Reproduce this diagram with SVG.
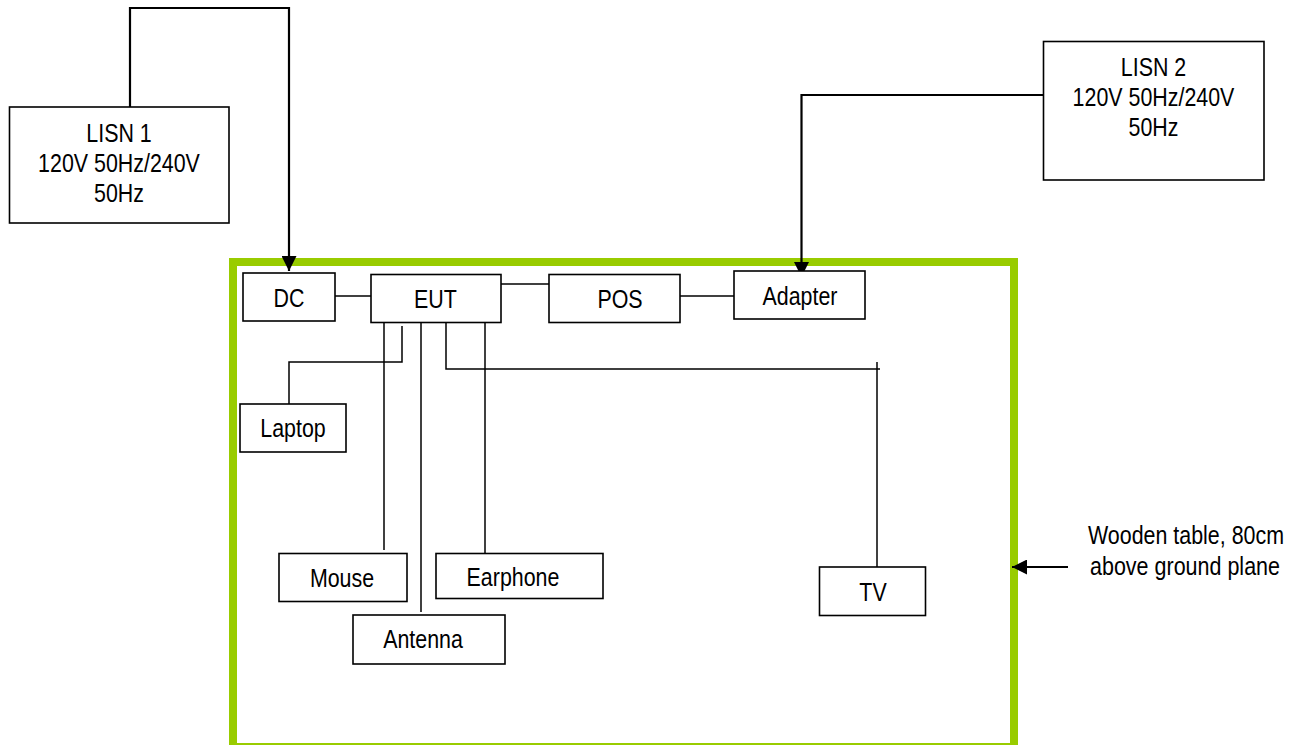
<svg xmlns="http://www.w3.org/2000/svg" width="1303" height="745" viewBox="0 0 1303 745">
<style>
.box{fill:#fff;stroke:#000;stroke-width:1.6}
.wire{fill:none;stroke:#000;stroke-width:1.5}
.pwr{fill:none;stroke:#000;stroke-width:2.2}
.t{font-family:"Liberation Sans",Arial,sans-serif;font-size:25px;fill:#000;text-anchor:middle}
</style>
<defs>
<marker id="arr" markerUnits="userSpaceOnUse" markerWidth="16" markerHeight="15" refX="15" refY="7.5" orient="auto">
<path d="M0,0 L15,7.5 L0,15 z" fill="#000"/>
</marker>
</defs>
<rect width="1303" height="745" fill="#fff"/>
<g id="table">
<rect x="233" y="262" width="781" height="485" fill="none" stroke="#99cc00" stroke-width="8"/>
</g>
<g id="connectors">
<path class="pwr" d="M130,107 V8 H289 V271" marker-end="url(#arr)"/>
<path class="pwr" d="M1043,95 H801.5 V277" marker-end="url(#arr)"/>
<path class="wire" d="M335,296 H371"/>
<path class="wire" d="M501,284 H549"/>
<path class="wire" d="M680,296 H734"/>
<path class="wire" d="M402,326 V362 H289 V404"/>
<path class="wire" d="M384,322 V550"/>
<path class="wire" d="M421,322 V612"/>
<path class="wire" d="M485,322 V553"/>
<path class="wire" d="M446,322 V369 H880"/>
<path class="wire" d="M877,362 V567"/>
<path class="pwr" d="M1068,567 H1012" marker-end="url(#arr)"/>
</g>
<g id="lisn1">
<rect class="box" x="9.5" y="107" width="219.5" height="116"/>
<text class="t" x="119" y="141.5" textLength="65.4" lengthAdjust="spacingAndGlyphs">LISN 1</text>
<text class="t" x="119" y="171.5" textLength="161.8" lengthAdjust="spacingAndGlyphs">120V 50Hz/240V</text>
<text class="t" x="119" y="201.5" textLength="49.9" lengthAdjust="spacingAndGlyphs">50Hz</text>
</g>
<g id="lisn2">
<rect class="box" x="1043.5" y="41.5" width="220.5" height="138.5"/>
<text class="t" x="1153.5" y="76" textLength="65.4" lengthAdjust="spacingAndGlyphs">LISN 2</text>
<text class="t" x="1153.5" y="106" textLength="161.8" lengthAdjust="spacingAndGlyphs">120V 50Hz/240V</text>
<text class="t" x="1153.5" y="136" textLength="49.9" lengthAdjust="spacingAndGlyphs">50Hz</text>
</g>
<g id="dc">
<rect class="box" x="243" y="273" width="92" height="48"/>
<text class="t" x="289" y="306.5" textLength="30.9" lengthAdjust="spacingAndGlyphs">DC</text>
</g>
<g id="eut">
<rect class="box" x="371" y="274.5" width="130" height="48"/>
<text class="t" x="435.5" y="308" textLength="42.8" lengthAdjust="spacingAndGlyphs">EUT</text>
</g>
<g id="pos">
<rect class="box" x="549" y="274.5" width="131" height="48"/>
<text class="t" x="620" y="308" textLength="45.2" lengthAdjust="spacingAndGlyphs">POS</text>
</g>
<g id="adapter">
<rect class="box" x="734" y="271" width="131" height="48"/>
<text class="t" x="800" y="305" textLength="74.9" lengthAdjust="spacingAndGlyphs">Adapter</text>
</g>
<g id="laptop">
<rect class="box" x="240" y="404" width="106" height="48"/>
<text class="t" x="293" y="437" textLength="65.4" lengthAdjust="spacingAndGlyphs">Laptop</text>
</g>
<g id="mouse">
<rect class="box" x="279" y="553.5" width="128" height="48"/>
<text class="t" x="342" y="587" textLength="64.2" lengthAdjust="spacingAndGlyphs">Mouse</text>
</g>
<g id="earphone">
<rect class="box" x="436" y="553.5" width="167" height="45"/>
<text class="t" x="513" y="586" textLength="92.8" lengthAdjust="spacingAndGlyphs">Earphone</text>
</g>
<g id="antenna">
<rect class="box" x="353" y="615" width="152" height="49"/>
<text class="t" x="423" y="648" textLength="79.7" lengthAdjust="spacingAndGlyphs">Antenna</text>
</g>
<g id="tv">
<rect class="box" x="819.5" y="567" width="106" height="48.5"/>
<text class="t" x="873" y="601" textLength="27.3" lengthAdjust="spacingAndGlyphs">TV</text>
</g>
<g id="table-label">
<text class="t" x="1186" y="544" textLength="196" lengthAdjust="spacingAndGlyphs">Wooden table, 80cm</text>
<text class="t" x="1185" y="575" textLength="190" lengthAdjust="spacingAndGlyphs">above ground plane</text>
</g>
</svg>
